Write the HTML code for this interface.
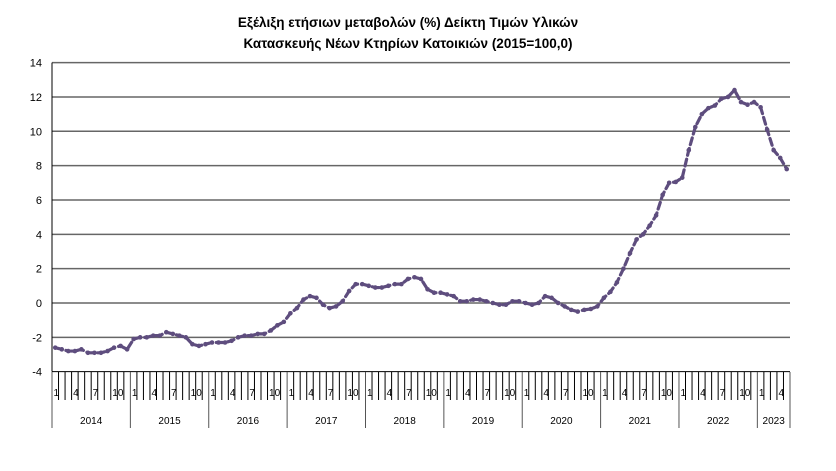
<!DOCTYPE html><html><head><meta charset="utf-8"><style>body{margin:0;background:#fff}svg{display:block;font-family:"Liberation Sans",sans-serif}</style></head><body>
<svg id="s" width="836" height="471" xmlns="http://www.w3.org/2000/svg">
<text x="408" y="27" text-anchor="middle" font-size="13.5" font-weight="bold">Εξέλιξη ετήσιων μεταβολών (%) Δείκτη Τιμών Υλικών</text>
<text x="408" y="48" text-anchor="middle" font-size="13.5" font-weight="bold">Κατασκευής Νέων Κτηρίων Κατοικιών (2015=100,0)</text>
</svg>
<script>
const s=document.getElementById('s'),NS='http://www.w3.org/2000/svg';
function el(t,a,txt){const e=document.createElementNS(NS,t);for(const k in a)e.setAttribute(k,a[k]);if(txt!=null)e.textContent=txt;s.appendChild(e);return e;}
const x0=52,x1=790,N=113,mw=(x1-x0)/N;
const Y=v=>303-v*17.17;
for(let v=-4;v<=14;v+=2){el('line',{x1:x0,x2:x1,y1:Y(v),y2:Y(v),stroke:v==-4?'#000':'#666','stroke-width':v==-4?1:1.5});
el('text',{x:42,y:Y(v)+4,'text-anchor':'end','font-size':11},String(v));}
el('line',{x1:x0,x2:x0,y1:Y(14),y2:Y(-4),stroke:'#000'});
for(let m=0;m<=N;m++){const x=x0+m*mw;const yr=m%12==0||m==N;
el('line',{x1:x,x2:x,y1:372,y2:yr?428:400,stroke:yr?'#555':'#000','stroke-width':1});
if(m<N&&m%3==0){el('text',{x:x+1.5,y:396,'font-size':10},String(m%12+1));}}
for(let y=0;y<10;y++){const a=x0+y*12*mw,b=Math.min(x1,a+12*mw);el('text',{x:(a+b)/2,y:424,'text-anchor':'middle','font-size':10},String(2014+y));}
const d=[-2.6,-2.7,-2.8,-2.8,-2.7,-2.9,-2.9,-2.9,-2.8,-2.6,-2.5,-2.7,
-2.1,-2.0,-2.0,-1.9,-1.9,-1.7,-1.8,-1.9,-2.0,-2.4,-2.5,-2.4,
-2.3,-2.3,-2.3,-2.2,-2.0,-1.9,-1.9,-1.8,-1.8,-1.6,-1.3,-1.1,
-0.6,-0.3,0.2,0.4,0.3,-0.1,-0.3,-0.2,0.1,0.7,1.1,1.1,
1.0,0.9,0.9,1.0,1.1,1.1,1.4,1.5,1.4,0.8,0.6,0.6,
0.5,0.4,0.1,0.1,0.2,0.2,0.1,0.0,-0.1,-0.1,0.1,0.1,
0.0,-0.1,0.0,0.4,0.3,0.0,-0.2,-0.4,-0.5,-0.4,-0.35,-0.2,
0.3,0.65,1.2,2.0,2.9,3.7,4.0,4.5,5.1,6.3,7.0,7.05,
7.3,8.9,10.25,11.0,11.35,11.5,11.9,12.0,12.4,11.7,11.55,11.7,
11.4,10.1,8.9,8.45,7.8];
const pts=d.map((v,i)=>[x0+(i+0.5)*mw,Y(v)]);
el('polyline',{points:pts.map(p=>p.join(',')).join(' '),fill:'none',stroke:'#5e4d7e','stroke-width':3.2,'stroke-dasharray':'7 4','stroke-linecap':'round'});
pts.forEach(p=>el('circle',{cx:p[0],cy:p[1],r:2.3,fill:'#5e4d7e'}));
</script></body></html>
